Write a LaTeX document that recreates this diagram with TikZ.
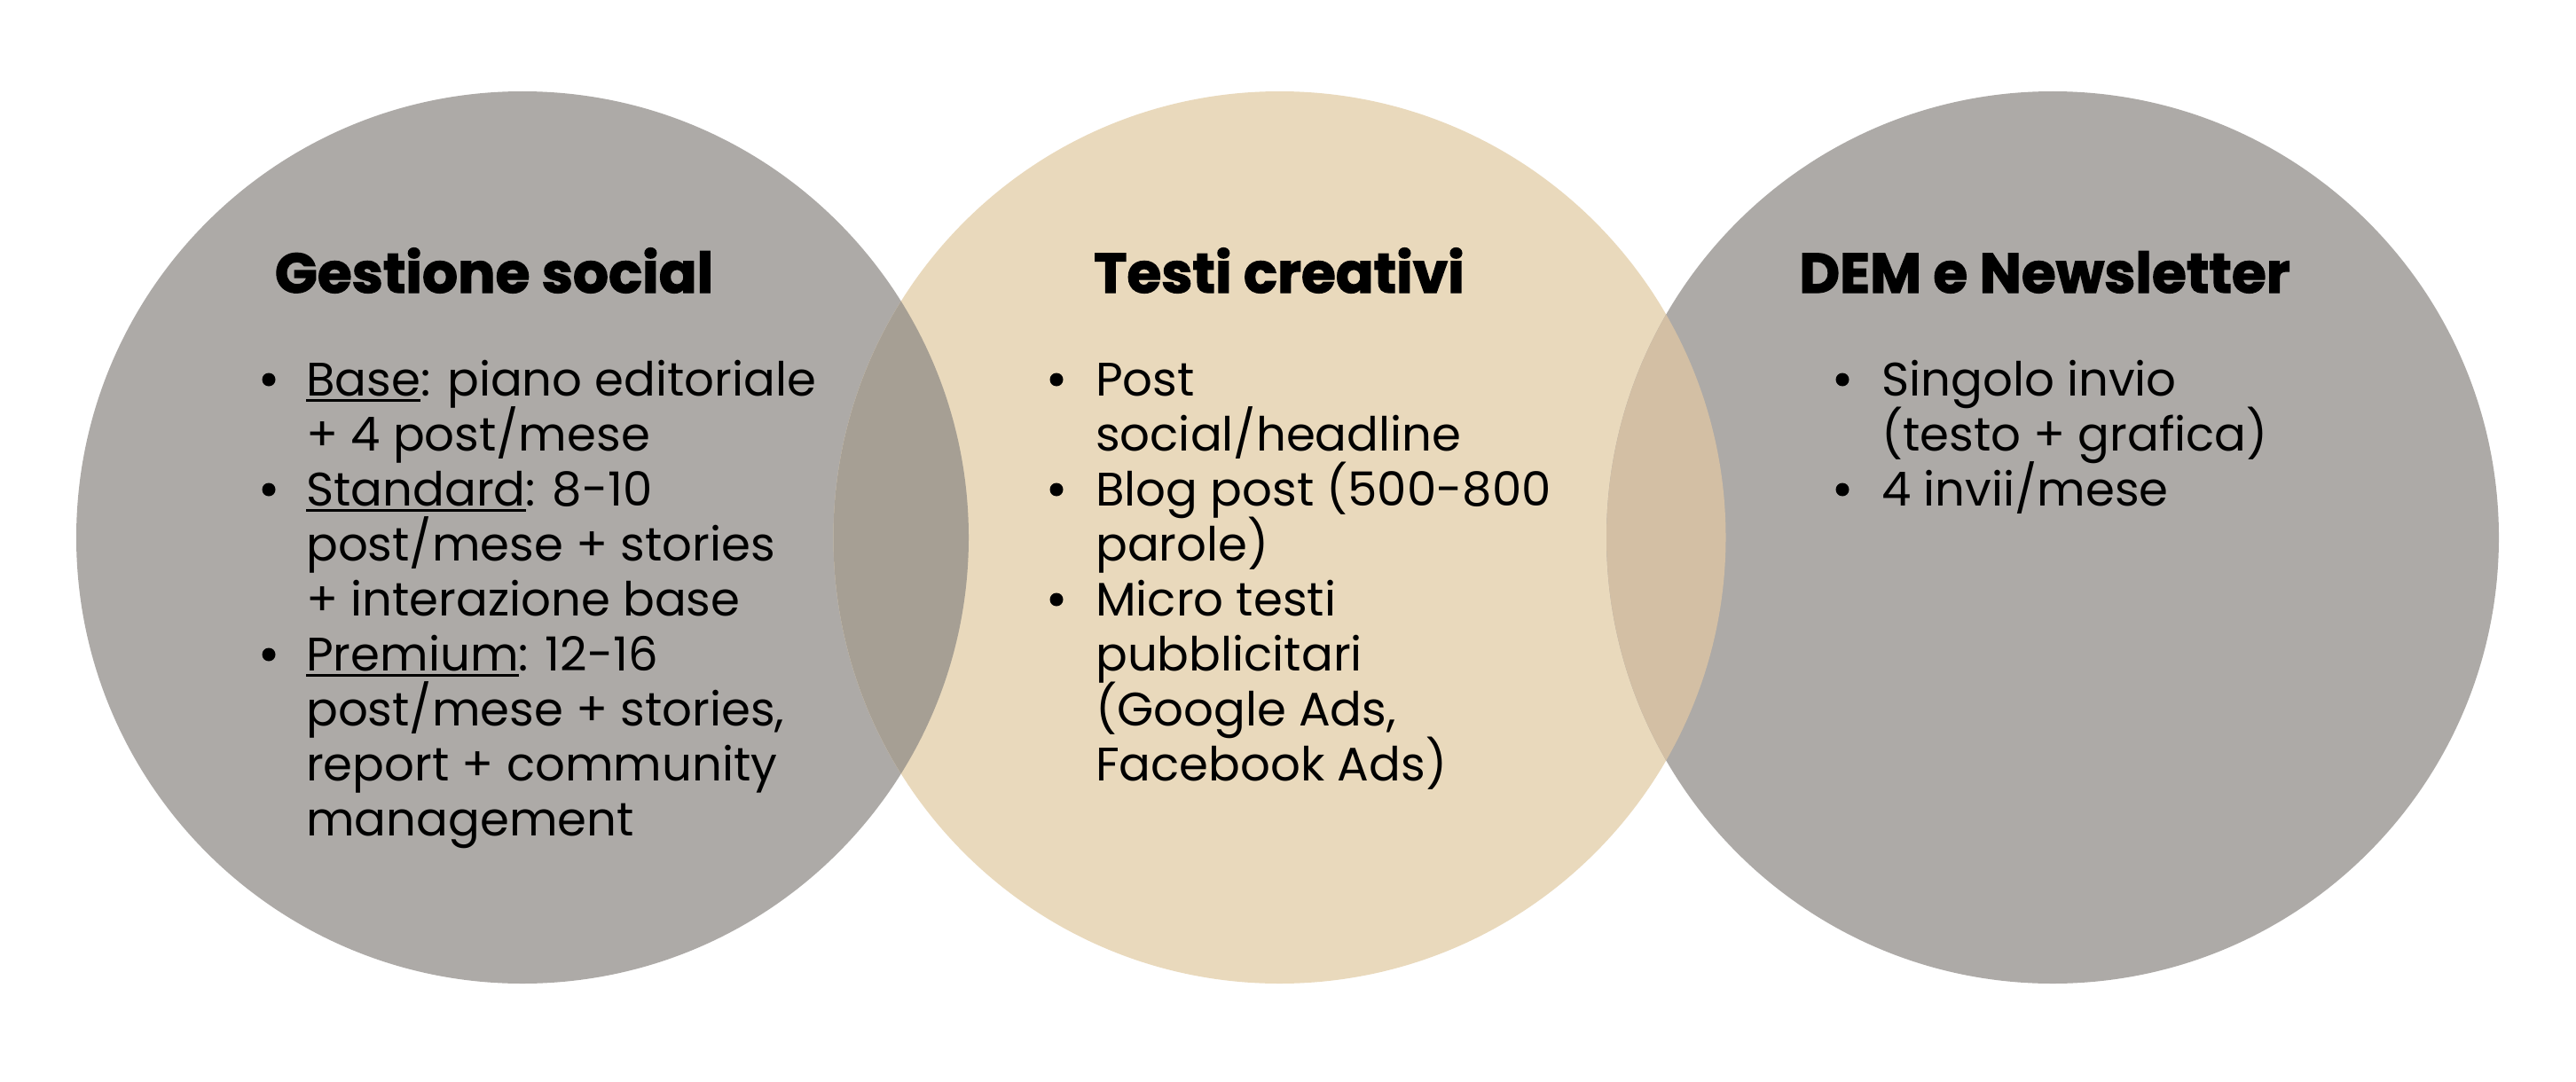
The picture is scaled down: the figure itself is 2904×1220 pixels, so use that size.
\documentclass[tikz,border=0pt]{standalone}
\usepackage{fontspec}
\setmainfont{Poppins}
\newfontfamily\ttlfont{Poppins}[BoldFeatures={FakeBold=2}]
\newcommand\ulword[1]{\setbox0\hbox{#1}\rlap{\rule[-7pt]{\wd0}{3pt}}\box0}
\definecolor{greyc}{HTML}{ADAAA7}
\definecolor{beigec}{HTML}{E9D9BC}
\definecolor{ovlL}{HTML}{A69F94}
\definecolor{ovlR}{HTML}{D3BFA4}
\tikzset{
  disc/.style={circle, inner sep=0pt, minimum size=1006pt, draw=none},
  ttl/.style={anchor=base, inner sep=0pt, font=\fontsize{63}{75}\selectfont\ttlfont\bfseries},
  body/.style={anchor=base west, inner sep=0pt, font=\fontsize{53}{62}\selectfont},
  dot/.style={circle, fill=black, inner sep=0pt, minimum size=15pt}
}
\begin{document}
\begin{tikzpicture}[x=1pt,y=-1pt]
\useasboundingbox (0,0) rectangle (2904,1220);
\node[disc, fill=greyc] (cL) at (589,606) {};
\node[disc, fill=beigec] (cM) at (1442.5,606) {};
\node[disc, fill=greyc] (cR) at (2314,606) {};
\begin{scope}
  \clip (589,606) circle [radius=503pt];
  \fill[ovlL] (1442.5,606) circle [radius=503pt];
\end{scope}
\begin{scope}
  \clip (2314,606) circle [radius=503pt];
  \fill[ovlR] (1442.5,606) circle [radius=503pt];
\end{scope}
% titles
\node[ttl] (tL) at (557,330) {Gestione social};
\node[ttl] (tM) at (1442,330) {Testi creativi};
\node[ttl] (tR) at (2305,330) {DEM e Newsletter};
% left list
\foreach \t [count=\i] in {{\ulword{Base}: piano editoriale},{+ 4 post/mese},{\ulword{Standard}: 8-10},{post/mese + stories},{+ interazione base},{\ulword{Premium}: 12-16},{post/mese + stories,},{report + community},{management}}
  \node[body] (l\i) at (345,{446+62*(\i-1)}) {\t};
\foreach \t [count=\i] in {{Post},{social/headline},{Blog post (500-800},{parole)},{Micro testi},{pubblicitari},{(Google Ads,},{Facebook Ads)}}
  \node[body] (m\i) at (1235,{446+62*(\i-1)}) {\t};
\foreach \t [count=\i] in {{Singolo invio},{(testo + grafica)},{4 invii/mese}}
  \node[body] (r\i) at (2121,{446+62*(\i-1)}) {\t};
% bullets
\foreach \y [count=\i] in {446,570,756}
  \node[dot] (bl\i) at (303,\y-18) {};
\foreach \y [count=\i] in {446,570,694}
  \node[dot] (bm\i) at (1191,\y-18) {};
\foreach \y [count=\i] in {446,570}
  \node[dot] (br\i) at (2077,\y-18) {};
\end{tikzpicture}
\end{document}
